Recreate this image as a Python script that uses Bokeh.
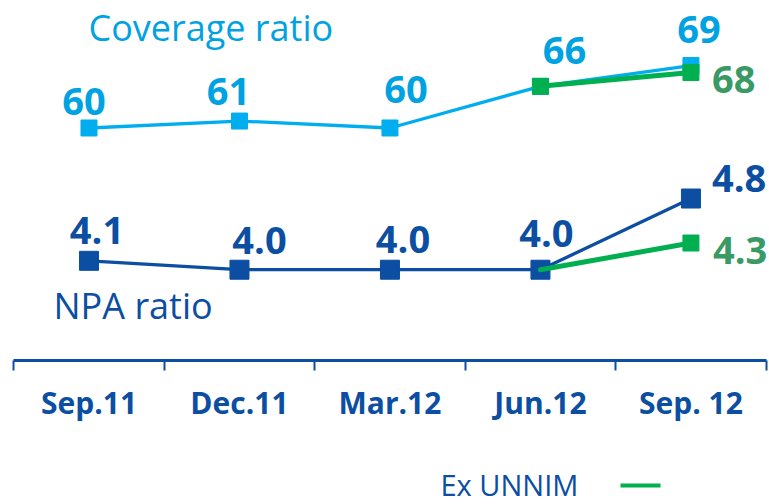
from bokeh.plotting import figure
from bokeh.models import Range1d, FixedTicker, Label, BoxAnnotation
from bokeh.core.properties import value
from bokeh.embed import file_html
from bokeh.resources import INLINE

# ---- data ----
categories = ["Sep.11", "Dec.11", "Mar.12", "Jun.12", "Sep. 12"]
coverage = [60, 61, 60, 66, 69]
npa = [4.1, 4.0, 4.0, 4.0, 4.8]
ex_unnim_idx = [3, 4]            # Jun.12, Sep. 12
ex_unnim_coverage = [66, 68]
ex_unnim_npa = [4.0, 4.3]

# ---- styles ----
LIGHT = "#00AEEF"
LIGHT_TXT = "#00A2E2"
DARK = "#0B4EA2"
GREEN = "#00B050"
GREEN_TXT = "#3A9A66"
FONT = "Open Sans"
# label nudges in pixels (style only)
cov_dx = [-5, -11, 16, 24, 8]
cov_dy = [-26, -30, -38, -36, -36]
npa_dx = [8, 20, 13, 6]
npa_dy = [-30, -29, -30, -36]

xs = list(range(len(categories)))

p = figure(width=769, height=504, output_backend="svg", toolbar_location=None,
           x_range=Range1d(-0.588, 4.522), y_range=Range1d(5.75, 78.37),
           y_axis_location=None,
           min_border_left=0, min_border_right=0, min_border_top=0,
           min_border_bottom=0, outline_line_color=None)
p.extra_y_ranges = {"npa": Range1d(1.362, 7.025)}
p.xgrid.visible = False
p.ygrid.visible = False

ax = p.xaxis[0]
ax.fixed_location = 26.5
ax.bounds = (-0.5, len(categories) - 0.5)
ax.ticker = FixedTicker(ticks=xs, minor_ticks=[i - 0.5 for i in range(len(categories) + 1)])
ax.major_label_overrides = {i: c for i, c in enumerate(categories)}
ax.major_tick_in = 0
ax.major_tick_out = 0
ax.minor_tick_in = 0
ax.minor_tick_out = 10
ax.minor_tick_line_color = DARK
ax.minor_tick_line_width = 2
ax.axis_line_color = DARK
ax.axis_line_width = 3
ax.major_label_text_font = FONT
ax.major_label_text_font_style = "bold"
ax.major_label_text_font_size = "30px"
ax.major_label_text_color = DARK
ax.major_label_standoff = 12

# coverage ratio
p.line(xs, coverage, line_color=LIGHT, line_width=3.3)
p.scatter(xs, coverage, marker="square", size=16, color=LIGHT)
p.line(ex_unnim_idx, ex_unnim_coverage, line_color=GREEN, line_width=5)
p.scatter(ex_unnim_idx, ex_unnim_coverage, marker="square", size=16, color=GREEN)

# NPA ratio
p.line(xs, npa, line_color=DARK, line_width=3.3, y_range_name="npa")
p.scatter(xs, npa, marker="square", size=19, color=DARK, y_range_name="npa")
p.line(ex_unnim_idx, ex_unnim_npa, line_color=GREEN, line_width=5, line_cap="round",
       y_range_name="npa")
p.scatter(ex_unnim_idx[1:], ex_unnim_npa[1:], marker="square", size=16, color=GREEN,
          y_range_name="npa")

# data labels
lab = dict(text_font=value(FONT), text_font_style="bold", text_font_size="38px",
           text_baseline="middle")
p.text(xs, coverage, text=[str(v) for v in coverage], text_align="center",
       x_offset=cov_dx, y_offset=cov_dy, text_color=LIGHT_TXT, **lab)
p.text(xs[:-1], npa[:-1], text=[f"{v:.1f}" for v in npa[:-1]], text_align="center",
       x_offset=npa_dx, y_offset=npa_dy, text_color=DARK, y_range_name="npa", **lab)
p.text(xs[-1:], npa[-1:], text=[f"{npa[-1]:.1f}"], text_align="left",
       x_offset=21, y_offset=-20, text_color=DARK, y_range_name="npa", **lab)
p.text(ex_unnim_idx[1:], ex_unnim_coverage[1:], text=[str(ex_unnim_coverage[-1])],
       text_align="left", x_offset=21, y_offset=7, text_color=GREEN_TXT, **lab)
p.text(ex_unnim_idx[1:], ex_unnim_npa[1:], text=[f"{ex_unnim_npa[-1]:.1f}"],
       text_align="left", x_offset=22, y_offset=7, text_color=GREEN_TXT,
       y_range_name="npa", **lab)

# series titles and legend
p.add_layout(Label(x=88, y=27, x_units="canvas", y_units="canvas", text="Coverage ratio",
                   text_font=FONT, text_font_size="36px", text_color=LIGHT_TXT,
                   text_baseline="middle"))
p.add_layout(Label(x=53, y=305, x_units="canvas", y_units="canvas", text="NPA ratio",
                   text_font=FONT, text_font_size="36px", text_color=DARK,
                   text_baseline="middle"))
p.add_layout(Label(x=440, y=484, x_units="canvas", y_units="canvas", text="Ex UNNIM",
                   text_font=FONT, text_font_size="29px", text_color=DARK,
                   text_baseline="middle"))
p.add_layout(BoxAnnotation(left=620, right=660, top=483, bottom=487,
                           left_units="canvas", right_units="canvas",
                           top_units="canvas", bottom_units="canvas",
                           fill_color=GREEN, fill_alpha=1, line_color=None))

open("out.html", "w").write(file_html(p, INLINE))
